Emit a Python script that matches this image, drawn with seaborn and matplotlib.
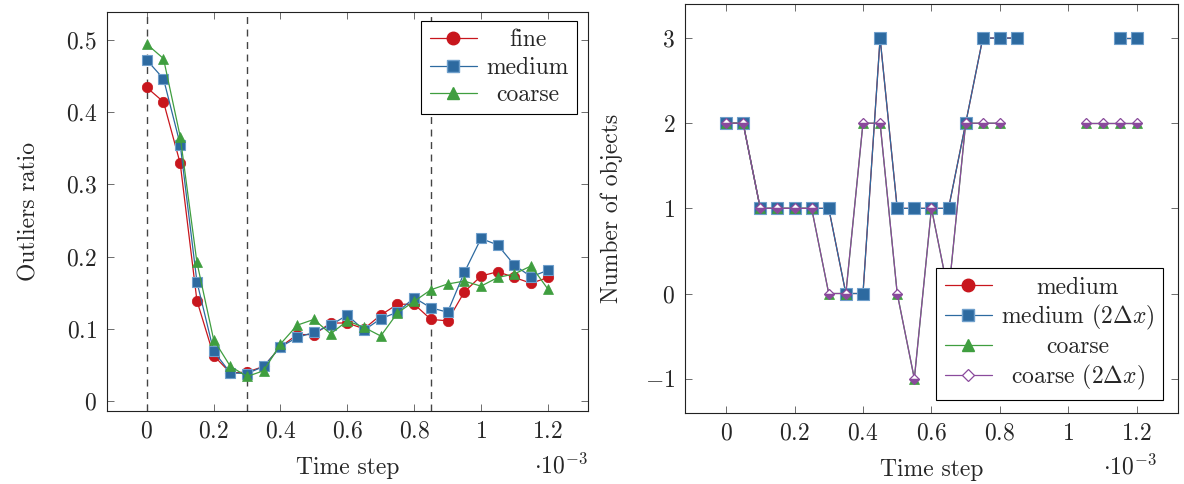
import numpy as np
import pandas as pd
import matplotlib
matplotlib.use("Agg")
import matplotlib.pyplot as plt
from matplotlib.lines import Line2D
from matplotlib.ticker import FuncFormatter, MultipleLocator
import seaborn as sns

# time steps, in units of 1e-3
time_step = [0.0, 0.05, 0.1, 0.15, 0.2, 0.25, 0.3, 0.35, 0.4, 0.45, 0.5, 0.55, 0.6,
             0.65, 0.7, 0.75, 0.8, 0.85, 0.9, 0.95, 1.0, 1.05, 1.1, 1.15, 1.2]

# left panel: outliers ratio
fine = [0.434, 0.414, 0.329, 0.139, 0.063, 0.039, 0.040, 0.048, 0.075, 0.092, 0.092, 0.108, 0.108,
        0.100, 0.119, 0.134, 0.134, 0.113, 0.111, 0.151, 0.173, 0.179, 0.171, 0.163, 0.171]
medium = [0.472, 0.446, 0.355, 0.165, 0.069, 0.039, 0.038, 0.048, 0.075, 0.088, 0.095, 0.105, 0.119,
          0.098, 0.114, 0.123, 0.143, 0.129, 0.123, 0.178, 0.225, 0.216, 0.188, 0.172, 0.181]
coarse = [0.494, 0.474, 0.366, 0.192, 0.085, 0.048, 0.034, 0.042, 0.079, 0.105, 0.113, 0.093, 0.111,
          0.102, 0.090, 0.122, 0.138, 0.154, 0.162, 0.166, 0.159, 0.171, 0.176, 0.187, 0.155]
phase_marks = [0.0, 0.3, 0.85]

# right panel: number of objects (nan = no value)
nan = np.nan
obj_medium = [2, 2, 1, 1, 1, 1, 1, 0, 0, 3, 1, 1, 1, 1, 2, 3, 3, 3, nan, nan, nan, nan, nan, 3, 3]
obj_medium_2dx = [2, 2, 1, 1, 1, 1, 1, 0, 0, 3, 1, 1, 1, 1, 2, 3, 3, 3, nan, nan, nan, nan, nan, 3, 3]
obj_coarse = [2, 2, 1, 1, 1, 1, 0, 0, 2, 2, 0, -1, 1, 0, 2, 2, 2, nan, nan, nan, nan, 2, 2, 2, 2]
obj_coarse_2dx = [2, 2, 1, 1, 1, 1, 0, 0, 2, 2, 0, -1, 1, 0, 2, 2, 2, nan, nan, nan, nan, 2, 2, 2, 2]

RED = "#c8161d"
BLUE = "#2d6aa0"
GREEN = "#3f9e3f"
PURPLE = "#8a4a9c"

sns.set_theme(style="ticks")
plt.rcParams.update({
    "font.family": "serif",
    "font.serif": ["cmr10", "DejaVu Serif"],
    "mathtext.fontset": "cm",
    "axes.formatter.use_mathtext": True,
    "axes.unicode_minus": False,
    "font.size": 17,
    "axes.edgecolor": "#222222",
    "axes.linewidth": 0.8,
})


def series_frame(values):
    df = pd.DataFrame({"t": time_step, "v": values})
    # separate segment id so gaps (nan) are not bridged
    df["seg"] = df["v"].isna().cumsum()
    return df.dropna()


def draw(ax, values, **kw):
    sns.lineplot(data=series_frame(values), x="t", y="v", units="seg", estimator=None,
                 sort=False, ax=ax, legend=False, **kw)


def style_axes(ax, ylim, ystep, off_x, off_y):
    ax.set_xlim(-0.12, 1.32)
    ax.set_ylim(*ylim)
    ax.xaxis.set_major_locator(MultipleLocator(0.2))
    ax.yaxis.set_major_locator(MultipleLocator(ystep))
    fmt = FuncFormatter(lambda v, p: "$%s$" % ("%g" % round(v, 6)))
    ax.xaxis.set_major_formatter(fmt)
    ax.yaxis.set_major_formatter(fmt)
    ax.tick_params(direction="in", top=True, right=True, length=5, width=0.6,
                   color="#555555", labelsize=17, pad=7)
    for s in ax.spines.values():
        s.set_visible(True)
    ax.set_xlabel("Time step", fontsize=17, labelpad=10)
    ax.text(off_x, off_y, r"$\cdot 10^{-3}$", transform=ax.transAxes, ha="right",
            va="baseline", fontsize=17)


def center_legend_text(fig, leg):
    fig.canvas.draw()
    r = fig.canvas.get_renderer()
    texts = leg.get_texts()
    widths = [t.get_window_extent(r).width for t in texts]
    wmax = max(widths)
    for t, w in zip(texts, widths):
        t.set_x((wmax - w) / 2)


fig = plt.figure(figsize=(11.84, 4.84), dpi=100)
ax1 = fig.add_axes([0.0901, 0.1514, 0.4065, 0.8231])
ax2 = fig.add_axes([0.5785, 0.1473, 0.4164, 0.8444])

# ---- left panel
for x in phase_marks:
    ax1.axvline(x, color="#444444", lw=1.0, ls=(0, (5, 4)), zorder=1)
lw = 0.9
draw(ax1, fine, color=RED, lw=lw, marker="o", ms=7.5, mfc=RED, mec=RED, mew=0.5)
draw(ax1, medium, color=BLUE, lw=lw, marker="s", ms=7.5, mfc=BLUE, mec="#6f9fcb", mew=0.8)
draw(ax1, coarse, color=GREEN, lw=lw, marker="^", ms=7, mfc=GREEN, mec=GREEN, mew=0.5)
style_axes(ax1, (-0.0134, 0.538), 0.1, 1.0, -0.157)
ax1.set_ylabel("Outliers ratio", fontsize=17, labelpad=18)

h1 = [Line2D([], [], color=RED, lw=lw, marker="o", ms=9, mfc=RED, mec=RED),
      Line2D([], [], color=BLUE, lw=lw, marker="s", ms=9, mfc=BLUE, mec="#6f9fcb"),
      Line2D([], [], color=GREEN, lw=lw, marker="^", ms=8, mfc=GREEN, mec=GREEN)]
leg1 = ax1.legend(h1, ["fine", "medium", "coarse"], loc="upper right",
                  bbox_to_anchor=(0.977, 0.978), borderaxespad=0, fancybox=False,
                  framealpha=1, edgecolor="black", fontsize=17, handlelength=2.0,
                  handletextpad=0.4, labelspacing=0.22, borderpad=0.35)
leg1.get_frame().set_linewidth(0.8)

# ---- right panel
draw(ax2, obj_medium, color=RED, lw=lw, marker="o", ms=7.5, mfc=RED, mec=RED, mew=0.5)
draw(ax2, obj_medium_2dx, color=BLUE, lw=lw, marker="s", ms=8, mfc=BLUE, mec="#6f9fcb", mew=0.8)
draw(ax2, obj_coarse, color=GREEN, lw=lw, marker="^", ms=6.5, mfc=GREEN, mec=GREEN, mew=0.5)
draw(ax2, obj_coarse_2dx, color=PURPLE, lw=lw, marker="D", ms=5.5, mfc="white", mec=PURPLE,
     mew=0.9, fillstyle="top", markerfacecoloralt=PURPLE)
style_axes(ax2, (-1.4, 3.4), 1, 0.957, -0.150)
ax2.set_ylabel("Number of objects", fontsize=17, labelpad=16)

h2 = [Line2D([], [], color=RED, lw=lw, marker="o", ms=9, mfc=RED, mec=RED),
      Line2D([], [], color=BLUE, lw=lw, marker="s", ms=9, mfc=BLUE, mec="#6f9fcb"),
      Line2D([], [], color=GREEN, lw=lw, marker="^", ms=8, mfc=GREEN, mec=GREEN),
      Line2D([], [], color=PURPLE, lw=lw, marker="D", ms=6, mfc="white", mec=PURPLE, mew=0.9)]
leg2 = ax2.legend(h2, ["medium", r"medium $(2\Delta x)$", "coarse", r"coarse $(2\Delta x)$"],
                  loc="lower right", bbox_to_anchor=(0.9696, 0.031), borderaxespad=0,
                  fancybox=False, framealpha=1, edgecolor="black", fontsize=17,
                  handlelength=2.0, handletextpad=0.4, labelspacing=0.18, borderpad=0.35)
leg2.get_frame().set_linewidth(0.8)

center_legend_text(fig, leg1)
center_legend_text(fig, leg2)

fig.savefig("out.png", dpi=100)
